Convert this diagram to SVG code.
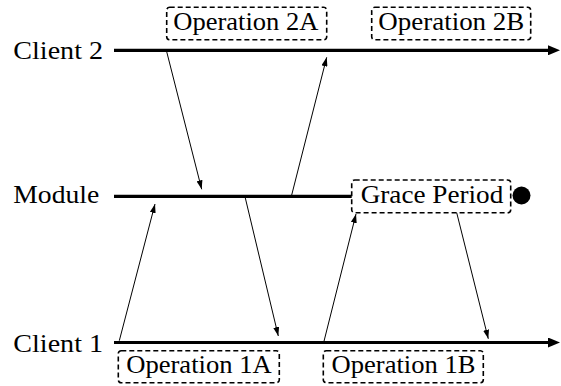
<svg xmlns="http://www.w3.org/2000/svg" width="561" height="386" viewBox="0 0 561 386">
<style>
text{font-family:'Liberation Serif','DejaVu Serif',serif;font-size:25px;fill:#000}
.main{stroke:#000;stroke-width:3.2;fill:none}
.msg{stroke:#000;stroke-width:1;fill:none;marker-end:url(#ah)}
.box{fill:#fff;stroke:#000;stroke-width:1.6;stroke-dasharray:5 3}
</style>
<defs>
<marker id="big" markerUnits="userSpaceOnUse" markerWidth="12" markerHeight="10" refX="4" refY="5" orient="auto">
<path d="M0,0 L12,5 L0,10 z" fill="#000"/>
</marker>
<marker id="ah" markerUnits="userSpaceOnUse" markerWidth="9" markerHeight="6" refX="9" refY="3" orient="auto">
<path d="M0,0 L9,3 L0,6 z" fill="#000"/>
</marker>
</defs>
<g id="client2">
<text x="13.3" y="59" textLength="89.7" lengthAdjust="spacingAndGlyphs">Client 2</text>
<line class="main" x1="114" y1="50.3" x2="552" y2="50.3" marker-end="url(#big)"/>
</g>
<g id="module">
<text x="13.3" y="203" textLength="86" lengthAdjust="spacingAndGlyphs">Module</text>
<line class="main" x1="114" y1="196.3" x2="352" y2="196.3"/>
</g>
<g id="client1">
<text x="13.3" y="351.5" textLength="89.7" lengthAdjust="spacingAndGlyphs">Client 1</text>
<line class="main" x1="114" y1="342.5" x2="552" y2="342.5" marker-end="url(#big)"/>
</g>
<g id="op2a">
<rect class="box" x="166.7" y="7.3" width="160" height="32.5" rx="3"/>
<text x="173.3" y="30" textLength="145" lengthAdjust="spacingAndGlyphs">Operation 2A</text>
</g>
<g id="op2b">
<rect class="box" x="371.7" y="7.3" width="159" height="32.5" rx="3"/>
<text x="378.3" y="30" textLength="146" lengthAdjust="spacingAndGlyphs">Operation 2B</text>
</g>
<g id="op1a">
<rect class="box" x="118.3" y="350.7" width="161" height="32" rx="3"/>
<text x="126.2" y="373.3" textLength="145.5" lengthAdjust="spacingAndGlyphs">Operation 1A</text>
</g>
<g id="op1b">
<rect class="box" x="323.3" y="350.7" width="160" height="32" rx="3"/>
<text x="331.5" y="373.3" textLength="144" lengthAdjust="spacingAndGlyphs">Operation 1B</text>
</g>
<g id="grace">
<rect class="box" x="351.7" y="180" width="159" height="32.7" rx="3"/>
<text x="360.7" y="203" textLength="142.6" lengthAdjust="spacingAndGlyphs">Grace Period</text>
<circle cx="521.5" cy="195.5" r="9" fill="#000"/>
</g>
<g id="connectors">
<line class="msg" x1="166.7" y1="51.7" x2="201.7" y2="189.3"/>
<line class="msg" x1="119.3" y1="340.7" x2="155" y2="204"/>
<line class="msg" x1="291.7" y1="195" x2="326.7" y2="57.3"/>
<line class="msg" x1="245" y1="196.7" x2="278.3" y2="336"/>
<line class="msg" x1="323.8" y1="342" x2="356" y2="214"/>
<line class="msg" x1="456.7" y1="212.7" x2="488.3" y2="338.8"/>
</g>
</svg>
